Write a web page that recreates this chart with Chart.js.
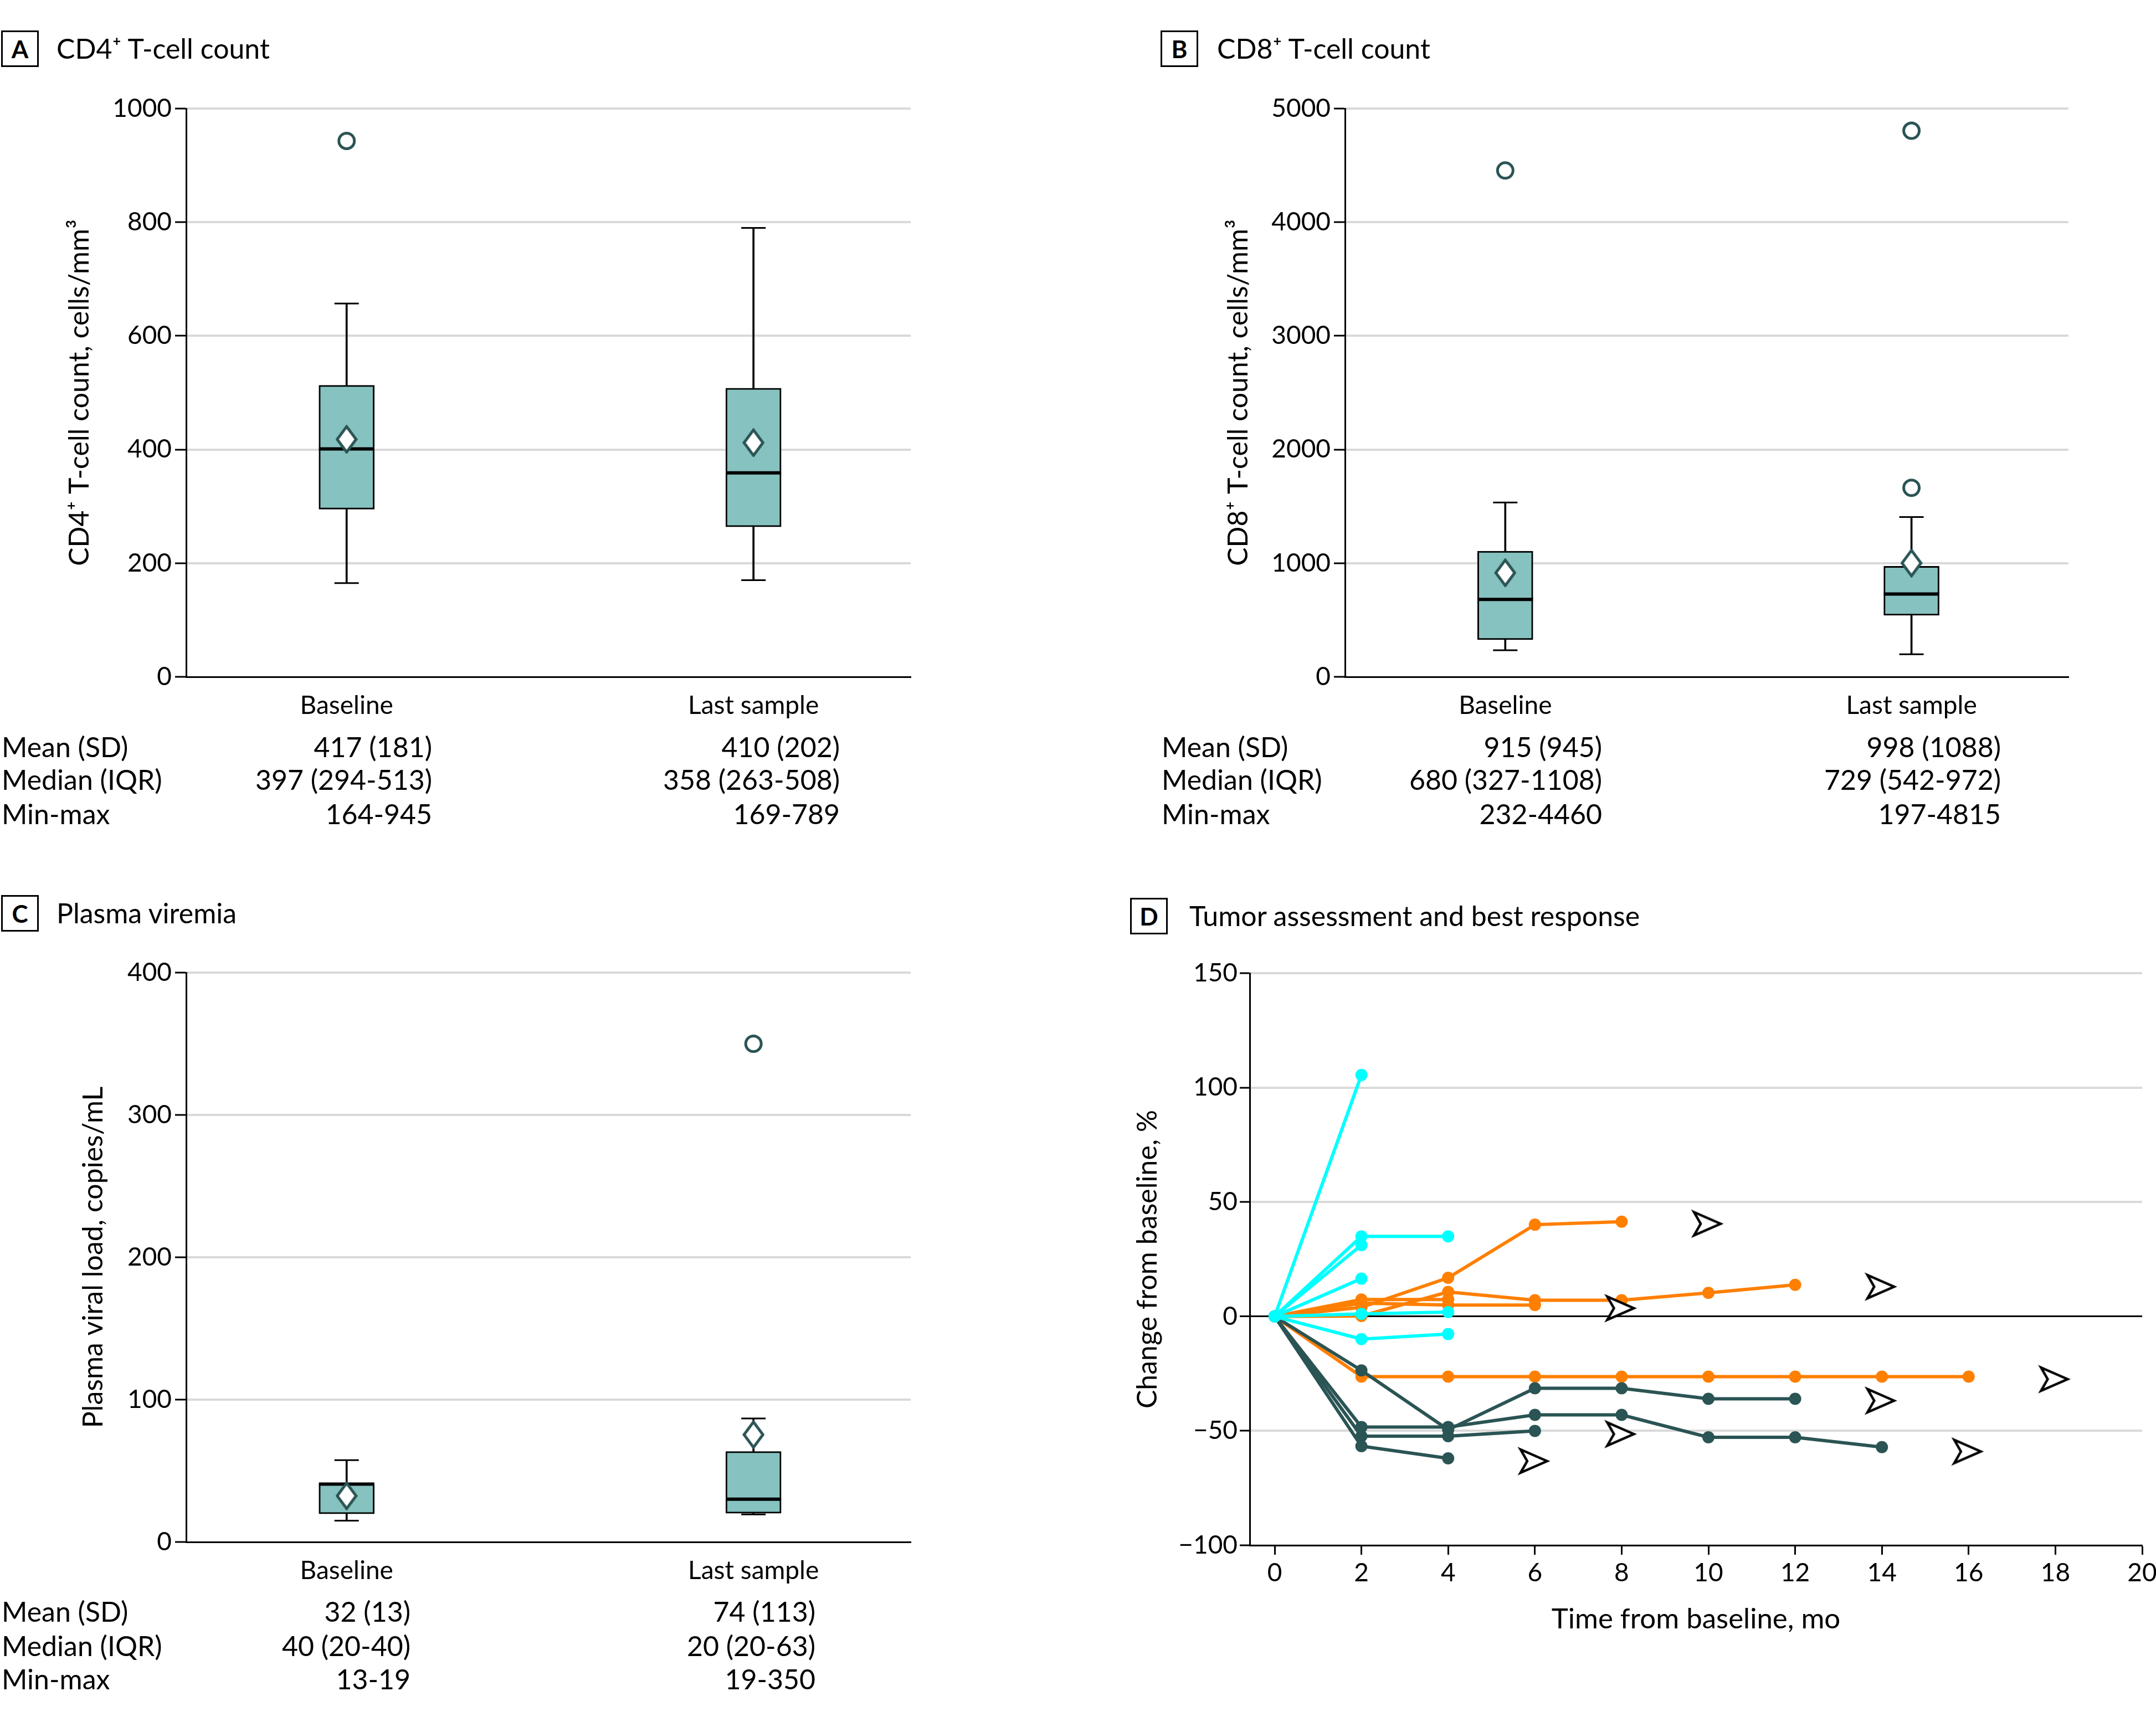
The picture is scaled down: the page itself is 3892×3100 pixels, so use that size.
<!DOCTYPE html>
<html>
<head>
<meta charset="utf-8">
<script src="https://cdn.jsdelivr.net/npm/chart.js@4.4.0/dist/chart.umd.min.js"></script>
<style>
body { margin: 0; background: #fff; overflow: hidden; }
#wrap { position: relative; width: 3892px; height: 3100px; font-family: Lato, sans-serif; color: #000; overflow: hidden; }
canvas { position: absolute; }
.tag { position: absolute; border: 3px solid #000; box-sizing: border-box; font-weight: bold; font-size: 44px;
       display: flex; align-items: center; justify-content: center; }
.ttl { position: absolute; font-size: 50px; line-height: 1; white-space: nowrap; transform: translateY(-50%); }
.cell { position: absolute; font-size: 50px; line-height: 1; white-space: nowrap; transform: translateY(-50%); }
.cell.r { transform: translate(-100%, -50%); }
</style>
</head>
<body>
<div id="wrap">
  <canvas id="cd4" width="1700" height="1200" style="left:0;top:140px"></canvas>
  <canvas id="cd8" width="1700" height="1200" style="left:2090px;top:140px"></canvas>
  <canvas id="vir" width="1700" height="1200" style="left:0;top:1700px"></canvas>
  <canvas id="tum" width="1962" height="1300" style="left:1940px;top:1700px"></canvas>
</div>
<script>
// ---- data ----
const boxLabels = ['Baseline', 'Last sample'];
const boxPos = [1, 2];
const statRows = ['Mean (SD)', 'Median (IQR)', 'Min-max'];

// CD4+ T-cell count
const cd4Low = [165, 170];
const cd4Q1 = [295, 264];
const cd4Median = [401, 359];
const cd4Q3 = [513, 508];
const cd4High = [657, 790];
const cd4Mean = [418, 412];
const cd4Outliers = [[943], []];
const cd4Table = [['417 (181)', '397 (294-513)', '164-945'], ['410 (202)', '358 (263-508)', '169-789']];

// CD8+ T-cell count
const cd8Low = [234, 199];
const cd8Q1 = [327, 541];
const cd8Median = [681, 728];
const cd8Q3 = [1106, 973];
const cd8High = [1534, 1406];
const cd8Mean = [915, 1001];
const cd8Outliers = [[4455], [1663, 4805]];
const cd8Table = [['915 (945)', '680 (327-1108)', '232-4460'], ['998 (1088)', '729 (542-972)', '197-4815']];

// Plasma viremia
const virLow = [15, 19.4];
const virQ1 = [19.8, 20.2];
const virMedian = [40.7, 30.1];
const virQ3 = [40.7, 63.6];
const virHigh = [57.5, 86.8];
const virMean = [32.4, 75.4];
const virOutliers = [[], [350]];
const virTable = [['32 (13)', '40 (20-40)', '13-19'], ['74 (113)', '20 (20-63)', '19-350']];

// Tumor assessment: % change at visits 0, 2, 4, ... months
const visitMonths = [0, 2, 4, 6, 8, 10, 12, 14, 16];
const monthTicks = [0, 2, 4, 6, 8, 10, 12, 14, 16, 18, 20];
const cyanLines = [
  [0, 105.5],
  [0, 35, 35],
  [0, 31.2],
  [0, 16.5],
  [0, 1.1, 1.9],
  [0, -9.9, -7.7]
];
const tealLines = [
  [0, -23.6, -49.5, -31.4, -31.4, -36, -36],
  [0, -48.3, -48.3, -43, -43, -52.8, -52.8, -57.1],
  [0, -56.7, -62],
  [0, -52.3, -52.3, -50]
];
const orangeLines = [
  [0, 4, 16.9, 40.1, 41.4],
  [0, 0.2, 10.7, 7.1, 7.1, 10.3, 13.8],
  [0, 7.4, 7.4],
  [0, 5.8, 5, 5],
  [0, -26.3, -26.3, -26.3, -26.3, -26.3, -26.3, -26.3, -26.3]
];
const arrowX = [10, 14, 8, 18, 14, 8, 16, 6];
const arrowY = [40.5, 13, 3.6, -27.4, -36.8, -51.4, -59, -63.2];

// ---- styles ----
const FONT = 'Lato, sans-serif';
const DARK = '#2B5454';
const BOX = '#86C2C0';
const GRID = '#d9d9d9';
const CYAN = '#00FFFF';
const ORANGE = '#FF7F00';

function imgStyle(w, h, draw) {
  const c = document.createElement('canvas');
  c.width = w; c.height = h;
  draw(c.getContext('2d'));
  return c;
}
const diamond = imgStyle(40, 52, g => {
  g.beginPath(); g.moveTo(20, 3); g.lineTo(37, 26); g.lineTo(20, 49); g.lineTo(3, 26); g.closePath();
  g.fillStyle = '#fff'; g.fill(); g.lineWidth = 5; g.strokeStyle = DARK; g.stroke();
});
const arrowHead = imgStyle(64, 52, g => {
  g.beginPath(); g.moveTo(54, 26); g.lineTo(6, 5); g.lineTo(18, 26); g.lineTo(6, 47); g.closePath();
  g.fillStyle = '#fff'; g.fill(); g.lineWidth = 4.5; g.strokeStyle = '#000'; g.stroke();
});

Chart.defaults.font.family = FONT;
Chart.defaults.color = '#000';

function boxChart(id, s) {
  const pts = arr => boxPos.map((p, i) => ({x: p, y: arr[i]}));
  const whisk = [];
  boxPos.forEach((p, i) => {
    whisk.push({x: p, y: [s.low[i], s.q1[i]]});
    whisk.push({x: p, y: [s.q3[i], s.high[i]]});
  });
  const out = [];
  s.outliers.forEach((arr, i) => arr.forEach(v => out.push({x: boxPos[i], y: v})));

  new Chart(document.getElementById(id), {
    type: 'bar',
    data: {
      datasets: [
        {type: 'line', data: out, showLine: false, pointStyle: 'circle', pointRadius: 14,
         pointBorderWidth: 5, pointBorderColor: DARK, pointBackgroundColor: '#fff', order: 0},
        {type: 'line', data: pts(s.mean), showLine: false, pointStyle: diamond, order: 1},
        {type: 'line', data: pts(s.median), showLine: false, pointStyle: 'line', pointRadius: 50,
         pointBorderWidth: 6, pointBorderColor: '#000', order: 2},
        {type: 'bar', data: boxPos.map((p, i) => ({x: p, y: [s.q1[i], s.q3[i]]})), backgroundColor: BOX,
         borderColor: '#000', borderWidth: 3, borderSkipped: false, barThickness: 100, grouped: false, order: 3},
        {type: 'line', data: [...pts(s.low), ...pts(s.high)], showLine: false, pointStyle: 'line',
         pointRadius: 22, pointBorderWidth: 3, pointBorderColor: '#000', order: 4},
        {type: 'bar', data: whisk, backgroundColor: '#000', barThickness: 3, grouped: false, order: 5}
      ]
    },
    options: {
      responsive: false,
      animation: false,
      devicePixelRatio: 1,
      layout: {padding: {top: s.top, right: s.right, left: 0, bottom: 0}},
      plugins: {legend: {display: false}, tooltip: {enabled: false}},
      scales: {
        x: {
          type: 'linear', min: 0.6055, max: 2.3865, offset: false,
          afterBuildTicks: sc => { sc.ticks = boxPos.map(v => ({value: v})); },
          afterFit: sc => { sc.height = s.xh; },
          grid: {display: false, drawTicks: false},
          border: {color: '#000', width: 3},
          ticks: {callback: v => boxLabels[boxPos.indexOf(v)], font: {size: 46}, padding: 25,
                  maxRotation: 0, autoSkip: false}
        },
        y: {
          min: 0, max: s.max,
          afterFit: sc => { sc.width = s.yw; },
          grid: {color: c => (c.tick && c.tick.value === 0) ? 'rgba(0,0,0,0)' : GRID, lineWidth: 4,
                 tickLength: 20, tickColor: '#000', tickWidth: 3},
          border: {color: '#000', width: 3},
          ticks: {stepSize: s.step, font: {size: 46}, padding: 6, callback: v => String(v)},
          title: {display: true, text: s.title, font: {size: 50}, padding: {top: s.tpad, bottom: 0}}
        }
      }
    }
  });
}

boxChart('cd4', {low: cd4Low, q1: cd4Q1, median: cd4Median, q3: cd4Q3, high: cd4High, mean: cd4Mean,
  outliers: cd4Outliers, max: 1000, step: 200, title: 'CD4\u207A T-cell count, cells/mm\u00B3',
  top: 51, right: 55, xh: 118, yw: 336, tpad: 114});
boxChart('cd8', {low: cd8Low, q1: cd8Q1, median: cd8Median, q3: cd8Q3, high: cd8High, mean: cd8Mean,
  outliers: cd8Outliers, max: 5000, step: 1000, title: 'CD8\u207A T-cell count, cells/mm\u00B3',
  top: 51, right: 53, xh: 118, yw: 338, tpad: 116});
boxChart('vir', {low: virLow, q1: virQ1, median: virMedian, q3: virQ3, high: virHigh, mean: virMean,
  outliers: virOutliers, max: 400, step: 100, title: 'Plasma viral load, copies/mL',
  top: 54, right: 55, xh: 116, yw: 336, tpad: 139});

// tumor response lines
function lineSets(lines, color) {
  return lines.map(ys => ({
    data: ys.map((y, i) => ({x: visitMonths[i], y: y})),
    borderColor: color, backgroundColor: color, borderWidth: 6,
    pointRadius: 11, pointBorderWidth: 0, pointBackgroundColor: color, tension: 0
  }));
}
new Chart(document.getElementById('tum'), {
  type: 'line',
  data: {
    datasets: [
      {data: arrowX.map((x, i) => ({x: x, y: arrowY[i]})), showLine: false, pointStyle: arrowHead},
      ...lineSets(cyanLines, CYAN),
      ...lineSets(tealLines, DARK),
      ...lineSets(orangeLines, ORANGE)
    ]
  },
  options: {
    responsive: false,
    animation: false,
    devicePixelRatio: 1,
    layout: {padding: {top: 57, right: 35, left: 0, bottom: 0}},
    plugins: {legend: {display: false}, tooltip: {enabled: false}},
    scales: {
      x: {
        type: 'linear', min: -0.575, max: 20,
        afterBuildTicks: sc => { sc.ticks = monthTicks.map(v => ({value: v})); },
        afterFit: sc => { sc.height = 210; },
        grid: {drawOnChartArea: false, drawTicks: true, tickLength: 17, tickColor: '#000', tickWidth: 3},
        border: {color: '#000', width: 3},
        ticks: {font: {size: 46}, padding: 6, maxRotation: 0, autoSkip: false},
        title: {display: true, text: 'Time from baseline, mo', font: {size: 51}, padding: {top: 0, bottom: 46}}
      },
      y: {
        min: -100, max: 150,
        afterFit: sc => { sc.width = 316; },
        grid: {color: c => (c.tick && c.tick.value === 0) ? '#000' : GRID,
               lineWidth: c => (c.tick && c.tick.value === 0) ? 3 : 4,
               tickLength: 18, tickColor: '#000', tickWidth: 3},
        border: {color: '#000', width: 3},
        ticks: {stepSize: 50, font: {size: 46}, padding: 4, callback: v => String(v).replace('-', '\u2212')},
        title: {display: true, text: 'Change from baseline, %', font: {size: 50}, padding: {top: 102, bottom: 0}}
      }
    }
  }
});

// ---- panel titles and summary tables ----
const wrap = document.getElementById('wrap');
function add(cls, text, css) {
  const d = document.createElement('div');
  d.className = cls;
  d.textContent = text;
  Object.assign(d.style, css);
  wrap.appendChild(d);
}
const panels = [
  {tag: 'A', title: 'CD4\u207A T-cell count', bx: 2, by: 55, tx: 102, ty: 87},
  {tag: 'B', title: 'CD8\u207A T-cell count', bx: 2095, by: 55, tx: 2197, ty: 87},
  {tag: 'C', title: 'Plasma viremia', bx: 2, by: 1616, tx: 102, ty: 1648},
  {tag: 'D', title: 'Tumor assessment and best response', bx: 2040, by: 1621, tx: 2147, ty: 1653}
];
panels.forEach(p => {
  add('tag', p.tag, {left: p.bx + 'px', top: p.by + 'px', width: '68px', height: '66px'});
  add('ttl', p.title, {left: p.tx + 'px', top: p.ty + 'px'});
});
const tables = [
  {cols: cd4Table, lx: 3, rx: [780, 1516], ry: [1348, 1407, 1469]},
  {cols: cd8Table, lx: 2097, rx: [2892, 3612], ry: [1348, 1407, 1469]},
  {cols: virTable, lx: 3, rx: [741, 1472], ry: [2909, 2971, 3031]}
];
tables.forEach(t => {
  statRows.forEach((name, r) => {
    add('cell', name, {left: t.lx + 'px', top: t.ry[r] + 'px'});
    t.cols.forEach((col, c) => add('cell r', col[r], {left: t.rx[c] + 'px', top: t.ry[r] + 'px'}));
  });
});
</script>
</body>
</html>
